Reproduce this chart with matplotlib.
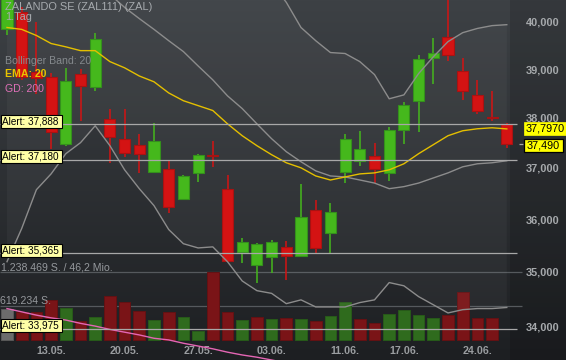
import numpy as np
import matplotlib
matplotlib.use("Agg")
import matplotlib.pyplot as plt
from matplotlib.colors import LinearSegmentedColormap
from matplotlib.patches import Rectangle
import matplotlib.transforms as mtransforms

plt.rcParams['font.family'] = ['Liberation Sans', 'DejaVu Sans']

W, H = 566, 360

# ---- data (daily candles, ZAL) ----
dates = ["08.05.", "09.05.", "10.05.", "13.05.", "14.05.", "15.05.", "16.05.", "17.05.",
         "20.05.", "21.05.", "22.05.", "23.05.", "24.05.", "27.05.", "28.05.", "29.05.",
         "30.05.", "31.05.", "03.06.", "04.06.", "05.06.", "06.06.", "07.06.", "11.06.",
         "12.06.", "13.06.", "14.06.", "17.06.", "18.06.", "19.06.", "20.06.", "21.06.",
         "24.06.", "25.06.", "26.06."]
tick_dates = ["13.05.", "20.05.", "27.05.", "03.06.", "11.06.", "17.06.", "24.06."]

opens = [39.86, 40.24, 38.97, 38.86, 37.50, 38.93, 38.66, 38.00, 37.60, 37.48,
         36.94, 37.00, 36.41, 36.92, 37.27, 36.61, 35.40, 35.14, 35.29, 35.49,
         35.32, 36.20, 35.76, 36.94, 37.16, 37.26, 36.92, 37.78, 38.37, 39.26,
         39.70, 38.99, 38.49, 38.03, 37.90]
highs = [40.72, 40.33, 40.01, 38.94, 39.05, 39.03, 39.79, 38.21, 38.21, 37.70,
         37.92, 37.16, 36.88, 37.30, 37.56, 36.88, 35.66, 35.56, 35.62, 35.60,
         36.71, 36.39, 36.34, 37.70, 37.76, 37.52, 37.84, 38.35, 39.32, 39.68,
         40.61, 39.26, 38.80, 38.56, 37.92]
lows = [39.75, 38.80, 38.50, 37.40, 37.46, 37.96, 38.56, 37.12, 37.24, 36.92,
        36.92, 36.14, 36.39, 36.74, 37.04, 35.22, 35.19, 34.82, 34.99, 34.87,
        35.31, 35.38, 35.38, 36.73, 37.06, 36.73, 36.77, 37.50, 37.74, 38.72,
        39.20, 38.39, 38.09, 37.96, 37.42]
closes = [40.61, 38.86, 38.84, 37.74, 38.78, 38.68, 39.66, 37.64, 37.32, 37.30,
          37.56, 36.25, 36.86, 37.28, 37.25, 35.23, 35.58, 35.54, 35.58, 35.31,
          36.07, 35.47, 36.16, 37.60, 37.40, 37.00, 37.78, 38.29, 39.24, 39.35,
          39.32, 38.58, 38.17, 38.01, 37.49]

# shares traded (last day has no volume yet)
volume = [565000, 510000, 510000, 729000, 583000, 346000, 419000, 801000, 692000, 528000,
          364000, 510000, 419000, 164000, 1238469, 510000, 364000, 410000, 382000, 400000,
          382000, 346000, 437000, 692000, 382000, 310000, 474000, 546000, 455000, 400000,
          455000, 874000, 400000, 400000]

ema20 = [39.90, 39.86, 39.73, 39.56, 39.49, 39.41, 39.41, 39.18, 39.05, 38.88,
         38.76, 38.53, 38.37, 38.27, 38.17, 37.90, 37.66, 37.46, 37.28, 37.12,
         37.02, 36.86, 36.78, 36.84, 36.90, 36.92, 36.98, 37.10, 37.30, 37.48,
         37.66, 37.76, 37.80, 37.82, 37.797]
bb_mid = [41.30, 41.20, 41.10, 41.00, 40.90, 40.80, 40.70, 40.61, 40.33, 40.09,
          39.86, 39.62, 39.39, 39.09, 38.80, 38.47, 38.21, 37.90, 37.60, 37.34,
          37.14, 36.96, 36.86, 36.84, 36.78, 36.72, 36.61, 36.65, 36.72, 36.82,
          36.92, 37.04, 37.10, 37.12, 37.16]
bb_up = [47.40, 46.60, 45.60, 45.10, 44.50, 44.10, 43.50, 43.80, 43.70, 43.60,
         43.40, 43.40, 43.20, 42.70, 42.10, 41.70, 41.60, 41.10, 40.85, 40.44,
         39.90, 39.62, 39.37, 39.35, 39.18, 38.91, 38.41, 38.49, 38.93, 39.28,
         39.60, 39.79, 39.88, 39.94, 39.96]
bb_low = [35.21, 35.84, 36.59, 36.90, 37.30, 37.52, 37.86, 37.46, 36.98, 36.61,
          36.28, 35.82, 35.55, 35.47, 35.49, 35.21, 34.85, 34.67, 34.62, 34.43,
          34.50, 34.37, 34.37, 34.37, 34.45, 34.50, 34.82, 34.76, 34.56, 34.41,
          34.26, 34.32, 34.34, 34.34, 34.36]
gd200 = [34.34, 34.28, 34.22, 34.17, 34.13, 34.07, 34.02, 33.96, 33.91, 33.86,
         33.80, 33.77, 33.71, 33.66, 33.61, 33.55, 33.50, 33.46, 33.41, 33.36]

alerts = [37.888, 37.180, 35.365, 33.975]
price_ticks = [34.0, 35.0, 36.0, 37.0, 38.0, 39.0, 40.0]
vol_top = 1238469
vol_mid = 619234


def de(v, nd=3):
    return f"{v:.{nd}f}".replace('.', ',')


x = np.arange(len(dates))
opens, highs, lows, closes = map(np.array, (opens, highs, lows, closes))

fig = plt.figure(figsize=(W / 100, H / 100), dpi=100)

# background gradient + darker label strip on the right
bg = fig.add_axes([0, 0, 1, 1])
bg.axis('off')
cmap = LinearSegmentedColormap.from_list('bg', ['#3d4145', '#1d1f22'])
bg.imshow(np.linspace(0, 1, 256).reshape(-1, 1), aspect='auto', cmap=cmap,
          extent=[0, 1, 0, 1])
bg.set_xlim(0, 1)
bg.set_ylim(0, 1)
bg.add_patch(Rectangle((510 / W, 0), 1, 1, color='black', alpha=0.13, lw=0))

xlim = (-7 / 14.7, (W - 7) / 14.7)

# volume panel (drawn underneath the price layer)
axv = fig.add_axes([0, 0, 1, 1])
axv.patch.set_alpha(0)
axv.axis('off')
axv.set_xlim(*xlim)
axv.set_ylim(-vol_top * 20 / 68, vol_top * 340 / 68)
vcol, vedge = [], []
for i in range(len(volume)):
    if i == 0:
        vcol.append('#6c6c6c'); vedge.append('#585858')
    elif closes[i] >= closes[i - 1]:
        vcol.append('#2f6b1d'); vedge.append('#275a19')
    else:
        vcol.append('#7a1417'); vedge.append('#631113')
axv.bar(x[:len(volume)], volume, width=0.8, color=vcol, edgecolor=vedge, lw=0.7, zorder=2)
axv.hlines([vol_top, vol_mid], xlim[0], (522 - 7) / 14.7, color='#55595d', lw=0.9, zorder=1)

# price layer
ax = fig.add_axes([0, 0, 1, 1])
ax.patch.set_alpha(0)
ax.set_yscale('log')
ax.set_xlim(*xlim)
ax.set_ylim(33.41, 40.49)
ax.axis('off')

ax.fill_between(x, bb_low, bb_up, color='white', alpha=0.035, lw=0, zorder=1)

up = closes >= opens
wick_c = np.where(up, '#45b81c', '#d41313')
body_c = np.where(up, '#45b81c', '#d41313')
edge_c = np.where(up, '#34901c', '#a81212')
ax.vlines(x, lows, highs, color=wick_c, lw=1.1, zorder=3)
bottoms = np.minimum(opens, closes)
heights = np.maximum(np.abs(closes - opens), 0.02)
ax.bar(x, heights, bottom=bottoms, width=0.76, color=body_c, edgecolor=edge_c,
       lw=0.8, zorder=4)

ax.plot(x, bb_up, color='#8c8c8c', lw=1.0, zorder=5)
ax.plot(x, bb_mid, color='#8c8c8c', lw=1.0, zorder=5)
ax.plot(x, bb_low, color='#8c8c8c', lw=1.0, zorder=5)
ax.plot(x, ema20, color='#e4bf00', lw=1.0, zorder=6)
ax.plot(x[:len(gd200)], gd200, color='#e466b4', lw=1.0, zorder=6)

ax.hlines(alerts, xlim[0], (517 - 7) / 14.7, color='#a8a8a8', lw=0.9, zorder=7)
ax.hlines(closes[-1], (519 - 7) / 14.7, (523 - 7) / 14.7, color='#a8a8a8', lw=0.9)

# transforms
fig_y = mtransforms.blended_transform_factory(fig.transFigure, ax.transData)
dat_x = mtransforms.blended_transform_factory(ax.transData, fig.transFigure)


def py_of(p):
    return H - ax.transData.transform((0, p))[1]


# alert labels on the left
for a in alerts:
    yc = py_of(a) - 3
    fig.add_artist(Rectangle((0.5 / W, 1 - (yc + 6.3) / H), 61 / W, 12.6 / H,
                             transform=fig.transFigure, fc='#ffffa6', ec='black',
                             lw=0.8, zorder=20))
    fig.text(2.5 / W, 1 - yc / H, "Alert: " + de(a), fontsize=7.2, color='black',
             va='center', ha='left', zorder=21)

# price scale on the right
for t in price_ticks:
    ax.text(542.5 / W, t, de(t), transform=fig_y, ha='center', va='center',
            fontsize=7.9, fontweight='bold', color='#a6a9ac')

# current EMA and last price boxes
yc = py_of(ema20[-1]) - 0.8
fig.add_artist(Rectangle((524 / W, 1 - (yc + 6.5) / H), 42 / W, 13 / H,
                         transform=fig.transFigure, fc='#ffff00', ec='#ffff00', lw=0.5, zorder=20))
fig.text(525.5 / W, 1 - yc / H, de(ema20[-1], 4), fontsize=7.8, color='black',
         va='center', zorder=21)
yc = py_of(closes[-1]) + 1.5
fig.add_artist(Rectangle((524 / W, 1 - (yc + 6.2) / H), 39 / W, 12.4 / H,
                         transform=fig.transFigure, fc='#ffff00', ec='black', lw=0.9, zorder=20))
fig.text(526.5 / W, 1 - yc / H, de(closes[-1]), fontsize=7.8, color='black',
         va='center', zorder=21)

# date axis
for d in tick_dates:
    ax.text(dates.index(d), 1 - 354 / H, d, transform=dat_x, ha='center', va='baseline',
            fontsize=7.7, fontweight='bold', color='#9a9da0')

# header / legend texts
fig.text(5 / W, 1 - 10 / H, "ZALANDO SE (ZAL111) (ZAL)", fontsize=7.9, color='#a6aaae', va='baseline')
fig.text(5 / W, 1 - 20 / H, "1.Tag", fontsize=7.9, color='#a6aaae', va='baseline')
fig.text(5 / W, 1 - 63.7 / H, "Bollinger Band: 20", fontsize=7.6, color='#85898d', va='baseline')
fig.text(5 / W, 1 - 77.3 / H, "EMA: 20", fontsize=7.6, color='#e8c400', va='baseline', fontweight='bold')
fig.text(5 / W, 1 - 91.7 / H, "GD: 200", fontsize=7.6, color='#e070b8', va='baseline')

fig.text(1 / W, 1 - 270 / H, "1.238.469 S. / 46,2 Mio.", fontsize=7.6, color='#95999d', va='baseline')
fig.text(0 / W, 1 - 303.5 / H, "619.234 S.", fontsize=7.6, color='#95999d', va='baseline')

fig.savefig("out.png", dpi=100)
